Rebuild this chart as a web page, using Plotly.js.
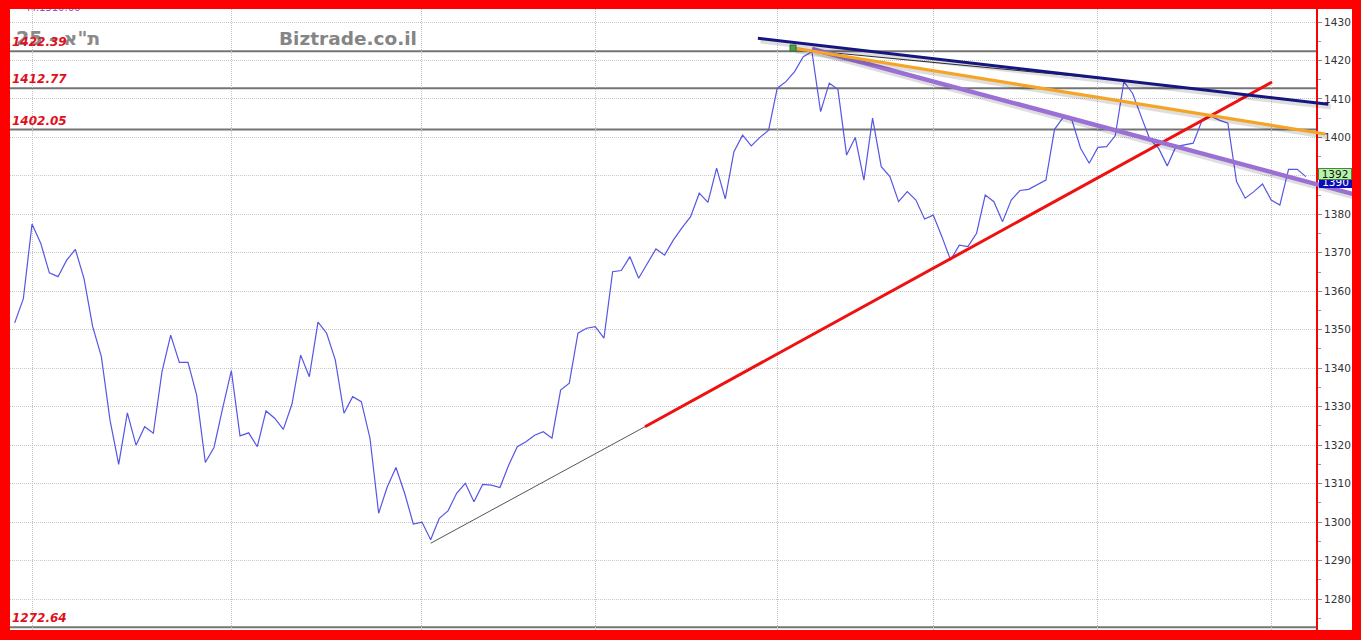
<!DOCTYPE html>
<html>
<head>
<meta charset="utf-8">
<script src="https://cdn.plot.ly/plotly-3.0.1.min.js"></script>
<style>
  html, body { margin: 0; padding: 0; background: #ff0000; width: 1361px; height: 640px; overflow: hidden; }
  #chart { position: absolute; left: 10px; top: 9px; width: 1342px; height: 621px; background: #fff; }
</style>
</head>
<body>
<div id="chart"></div>
<script>
// ---- data (trading-day index -> close) ----
const closes = [
  1351.8, 1358.1, 1377.5, 1372.5, 1364.8, 1363.8, 1368.1, 1370.9, 1363.3, 1350.8,
  1343.0, 1326.5, 1315.0, 1328.4, 1320.0, 1324.8, 1323.1, 1339.1, 1348.6, 1341.5,
  1341.5, 1333.0, 1315.5, 1319.4, 1329.6, 1339.4, 1322.4, 1323.2, 1319.6, 1328.9,
  1327.0, 1324.1, 1330.7, 1343.4, 1337.8, 1352.0, 1349.1, 1342.1, 1328.3, 1332.6,
  1331.3, 1321.8, 1302.3, 1309.2, 1314.2, 1307.5, 1299.5, 1300.0, 1295.4, 1301.0,
  1302.9, 1307.5, 1310.1, 1305.3, 1309.8, 1309.6, 1309.0, 1314.8, 1319.6, 1320.9,
  1322.6, 1323.5, 1321.8, 1334.3, 1336.1, 1349.1, 1350.4, 1350.8, 1347.8, 1365.1,
  1365.4, 1369.0, 1363.4, 1367.3, 1371.0, 1369.4, 1373.3, 1376.5, 1379.4, 1385.5,
  1383.1, 1392.0, 1384.0, 1396.3, 1400.6, 1397.8, 1400.0, 1401.9, 1412.8, 1414.5,
  1417.1, 1421.0, 1422.3, 1406.7, 1414.1, 1412.5, 1395.4, 1400.0, 1388.9, 1405.0,
  1392.4, 1389.8, 1383.3, 1385.9, 1383.7, 1378.8, 1379.8, 1374.2, 1368.1, 1372.0,
  1371.6, 1375.1, 1385.0, 1383.3, 1378.1, 1383.7, 1386.2, 1386.5, 1387.6, 1388.9,
  1402.1, 1405.2, 1404.5, 1397.2, 1393.3, 1397.4, 1397.6, 1400.4, 1414.5, 1411.5,
  1405.4, 1399.5, 1397.2, 1392.6, 1397.6, 1398.0, 1398.5, 1404.3, 1405.6, 1404.5,
  1403.7, 1388.5, 1384.2, 1385.9, 1387.9, 1383.7, 1382.4, 1391.7, 1391.7, 1389.8
];
const days = closes.map((_, i) => i);

// vertical grid (period starts, as day index)
const periodStarts = [2, 25, 47, 67, 88, 106, 125, 145];

// horizontal levels
const levels = [1422.39, 1412.77, 1402.05, 1272.64];
const levelLabels = ['1422.39', '1412.77', '1402.05', '1272.64'];

// trend lines (day index, value)
const grayX = [48.0, 72.73],    grayY = [1294.5, 1324.8];
const redX = [72.73, 145.08],   redY = [1324.8, 1414.4];
const navyX = [85.76, 151.58],  navyY = [1425.76, 1408.61];
const orangeX = [89.81, 151.2], orangeY = [1423.24, 1400.89];
const purpleX = [92.0, 154.43], purpleY = [1422.98, 1385.29];
const thinX = [91.55, 126.4],   thinY = [1422.61, 1415.1];

// axis price tags
const tagValues = [1392, 1390];
const tagTexts = ['1392', '1390'];

const titleText = 'ת"א - 25';
const siteText = 'Biztrade.co.il';
const topText = 'M:1310.66';

// ---- geometry ----
const W = 1342, H = 621, plotW = 1306;
const xMin = -0.542, xMaxMain = 150.17, xMaxWide = 154.31;
const yRange = [1271.95, 1433.38];

function shadow(xs, ys, dx, dy) {
  return { x: xs.map(v => v + dx), y: ys.map(v => v + dy) };
}

const traces = [];
traces.push({
  x: days, y: closes, type: 'scatter', mode: 'lines',
  line: { color: '#5656e6', width: 1.2 }, xaxis: 'x', yaxis: 'y', hoverinfo: 'skip'
});

function addLine(xs, ys, color, width, sh) {
  if (sh) {
    const s = shadow(xs, ys, 0.3, -0.7);
    traces.push({ x: s.x, y: s.y, mode: 'lines', line: { color: 'rgba(0,0,0,0.13)', width: width + 2 },
      xaxis: 'x2', yaxis: 'y2', hoverinfo: 'skip' });
  }
  traces.push({ x: xs, y: ys, mode: 'lines', line: { color: color, width: width },
    xaxis: 'x2', yaxis: 'y2', hoverinfo: 'skip' });
}
addLine(grayX, grayY, '#555555', 1, false);
addLine(redX, redY, '#ee1111', 3, false);
addLine(thinX, thinY, '#333333', 1, false);
addLine(purpleX, purpleY, '#9a70d4', 4.5, true);
addLine(orangeX, orangeY, '#f5a425', 3.2, true);
addLine(navyX, navyY, '#16167e', 3, true);
traces.push({ x: [orangeX[0]], y: [orangeY[0]], mode: 'markers',
  marker: { symbol: 'square', size: 6, color: '#49a349', line: { color: '#2d6e2d', width: 1 } },
  xaxis: 'x2', yaxis: 'y2', hoverinfo: 'skip' });

const shapes = levels.map(v => ({
  type: 'line', xref: 'x', yref: 'y', x0: xMin, x1: xMaxMain, y0: v, y1: v,
  line: { color: '#747474', width: 2 }, layer: 'below'
}));

const annotations = [];
annotations.push({
  xref: 'paper', yref: 'paper', x: 338 / W, y: 1 - 29.7 / H, xanchor: 'center', yanchor: 'middle',
  showarrow: false, text: siteText,
  font: { family: 'DejaVu Sans', size: 18.5, color: '#858585', weight: 'bold' }
});
annotations.push({
  xref: 'paper', yref: 'paper', x: 4 / W, y: 1 - 29.5 / H, xanchor: 'left', yanchor: 'middle',
  showarrow: false, text: titleText,
  font: { family: 'DejaVu Sans', size: 19, color: '#8a8a8a', weight: 'bold' }
});
levels.forEach((v, k) => {
  annotations.push({
    xref: 'paper', yref: 'y', x: 0, y: v, xanchor: 'left', yanchor: 'bottom',
    xshift: 1, yshift: 1, showarrow: false, borderpad: 0, text: levelLabels[k],
    font: { family: 'DejaVu Sans', size: 12, color: '#e01020', weight: 'bold', style: 'italic' }
  });
});
annotations.push({
  xref: 'paper', yref: 'paper', x: 15 / W, y: 1 + 1.5 / H, xanchor: 'left', yanchor: 'middle',
  showarrow: false, text: topText,
  font: { family: 'DejaVu Sans', size: 10, color: '#6a5acd' }
});
// price tags: blue first, then green on top
annotations.push({
  xref: 'paper', yref: 'y', x: 1, y: tagValues[1], xanchor: 'right', yanchor: 'top',
  showarrow: false, text: tagTexts[1], width: 31, height: 10, borderpad: 1, borderwidth: 0,
  bgcolor: '#0c0cb8', font: { family: 'DejaVu Sans', size: 10.5, color: '#ffffff' }
});
annotations.push({
  xref: 'paper', yref: 'y', x: 1, y: tagValues[0], xanchor: 'right', yanchor: 'top',
  showarrow: false, text: tagTexts[0], width: 31, height: 9, borderpad: 0.5, borderwidth: 1,
  bordercolor: '#3c8c3c', bgcolor: '#b6f2a8', font: { family: 'DejaVu Sans', size: 10.5, color: '#111111' }
});

const layout = {
  width: W, height: H,
  margin: { l: 0, r: 0, t: 0, b: 0, pad: 0 },
  paper_bgcolor: '#ffffff', plot_bgcolor: 'rgba(0,0,0,0)',
  showlegend: false,
  xaxis: {
    domain: [0, plotW / W], range: [xMin, xMaxMain], anchor: 'y',
    tickmode: 'array', tickvals: periodStarts, showticklabels: false, ticks: '',
    showgrid: true, gridcolor: '#c2c2c2', griddash: '1px,1px', gridwidth: 1,
    zeroline: false, showline: false, fixedrange: true
  },
  yaxis: {
    domain: [0, 1], range: yRange, anchor: 'x', side: 'right',
    tick0: 1280, dtick: 10, ticks: 'outside', ticklen: 4, tickcolor: '#888888', tickwidth: 1,
    minor: { dtick: 5, ticks: 'outside', ticklen: 3, tickcolor: '#999999', showgrid: false },
    showgrid: true, gridcolor: '#c8c8c8', griddash: '1px,1px', gridwidth: 1,
    showline: true, linecolor: '#ff0000', linewidth: 2, zeroline: false,
    tickfont: { family: 'DejaVu Sans', size: 10.5, color: '#333333' }, fixedrange: true
  },
  xaxis2: { domain: [0, 1], range: [xMin, xMaxWide], anchor: 'y2', visible: false, fixedrange: true },
  yaxis2: { domain: [0, 1], range: yRange, anchor: 'x2', visible: false, fixedrange: true },
  shapes: shapes,
  annotations: annotations
};

Plotly.newPlot('chart', traces, layout, { staticPlot: true, displayModeBar: false });
</script>
</body>
</html>
